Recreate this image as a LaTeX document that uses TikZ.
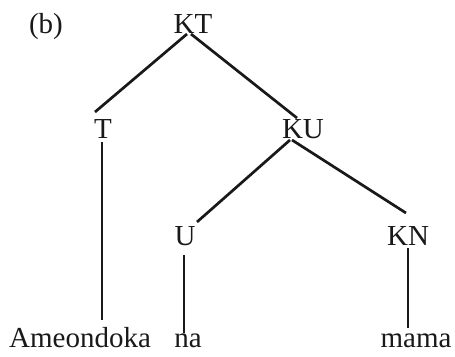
\documentclass[tikz,border=0pt]{standalone}
\usepackage{fontspec}
\setmainfont{Liberation Serif}
\begin{document}
\begin{tikzpicture}[x=1pt,y=-1pt,
  lbl/.style={anchor=base,inner sep=0pt,font=\fontsize{29}{29}\selectfont,text=black!90},
  branch/.style={line width=2.7pt,black!90}]
\fill[white] (0,0) rectangle (455,356);
\useasboundingbox (0,0) rectangle (455,356);
\node[lbl] (b) at (46,33) {(b)};
\node[lbl] (KT) at (193,33) {KT};
\node[lbl] (T) at (103,138) {T};
\node[lbl] (KU) at (303,138) {KU};
\node[lbl] (U) at (185,245) {U};
\node[lbl] (KN) at (408,245) {KN};
\node[lbl] (A) at (80,347) {Ameondoka};
\node[lbl] (na) at (188,347) {na};
\node[lbl] (mama) at (416,347) {mama};
\draw[branch] ([xshift=-6pt,yshift=-1pt]KT.base) -- ([xshift=-8pt,yshift=26pt]T.base);
\draw[branch] ([xshift=-2pt,yshift=-1pt]KT.base) -- ([xshift=-6pt,yshift=20pt]KU.base);
\draw[branch] ([xshift=-1pt,yshift=-4pt]T.base) -- ([xshift=22pt,yshift=27pt]A.base);
\draw[branch] ([xshift=-13pt,yshift=-2pt]KU.base) -- ([xshift=12pt,yshift=23pt]U.base);
\draw[branch] ([xshift=-11pt,yshift=-2pt]KU.base) -- ([xshift=-2pt,yshift=32pt]KN.base);
\draw[branch] ([xshift=-1pt,yshift=-10pt]U.base) -- ([xshift=-4pt,yshift=14pt]na.base);
\draw[branch] ([yshift=-3pt]KN.base) -- ([xshift=-8pt,yshift=19pt]mama.base);
\end{tikzpicture}
\end{document}
